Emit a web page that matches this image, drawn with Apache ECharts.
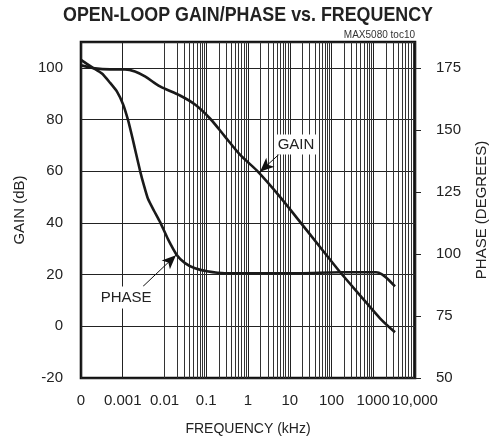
<!DOCTYPE html>
<html>
<head>
<meta charset="utf-8">
<script src="https://cdn.jsdelivr.net/npm/echarts@6/dist/echarts.min.js"></script>
<style>html,body{margin:0;padding:0;background:#fff}#c{width:494px;height:443px}</style>
</head>
<body>
<div id="c"></div>
<script>
// Frequency ticks (kHz) and their labels
var xTickLabels = ['0', '0.001', '0.01', '0.1', '1', '10', '100', '1000', '10,000'];
var minorMults = [2, 3, 4, 5, 6, 7, 8, 9];

// GAIN curve (dB) vs frequency (kHz)
var gainFreq = [0.0001, 0.000216, 0.000495, 0.00113, 0.00196, 0.00341, 0.0078, 0.0235, 0.0538, 0.123, 0.281, 0.643, 1.64, 5.84, 17.6, 53.1, 160, 482, 1452, 3318];
var gainVal  = [101.0, 99.8, 99.4, 99.4, 98.6, 96.7, 92.8, 89.3, 85.8, 80.4, 73.4, 66.4, 60.2, 50.1, 40.4, 30.7, 21.0, 12.0, 3.1, -2.3];

// PHASE curve (degrees) vs frequency (kHz)
var phaseFreq = [0.0001, 0.000194, 0.000318, 0.000495, 0.000728, 0.00101, 0.00134, 0.00167, 0.00208, 0.00259, 0.00323, 0.00402, 0.0056, 0.0078, 0.0121, 0.0199, 0.031, 0.0537, 0.104, 0.281, 1.94, 17.6, 160, 1164, 1620, 2256, 3319];
var phaseVal  = [178.2, 175.0, 172.7, 169.0, 165.4, 160.4, 153.9, 147.4, 140.5, 133.6, 127.5, 122.2, 117.4, 112.9, 106.0, 99.5, 96.3, 94.2, 93.0, 92.2, 92.2, 92.2, 92.6, 92.6, 91.8, 89.8, 86.9];

var FONT = "'Liberation Sans', Arial, sans-serif";

function zip(a, b) { return a.map(function (v, i) { return [v, b[i]]; }); }

var minorLines = [];
for (var e = -4; e < 4; e++) {
  minorMults.forEach(function (m) { minorLines.push({ xAxis: m * Math.pow(10, e) }); });
}

var chart = echarts.init(document.getElementById('c'), null, { renderer: 'canvas' });
chart.setOption({
  animation: false,
  backgroundColor: '#fff',
  textStyle: { fontFamily: FONT },
  title: [
    { text: 'MAX5080 toc10', right: 74, top: 25,
      textStyle: { fontFamily: FONT, fontSize: 10, fontWeight: 'normal', color: '#333' } }
  ],
  graphic: [
    { type: 'text', x: 248, y: 5, scaleX: 0.85, silent: true,
      style: { text: 'OPEN-LOOP GAIN/PHASE vs. FREQUENCY', fill: '#222',
        font: "bold 21px 'Liberation Sans', Arial, sans-serif", textAlign: 'center', textVerticalAlign: 'top' } }
  ],
  grid: { left: 81, right: 79, top: 42, bottom: 65, outerBoundsMode: 'none', containLabel: false,
    show: true, borderColor: '#111', borderWidth: 2.6, backgroundColor: 'transparent' },
  xAxis: {
    type: 'log', logBase: 10, min: 0.0001, max: 10000, splitNumber: 8,
    name: 'FREQUENCY (kHz)', nameLocation: 'middle', nameGap: 44,
    nameTextStyle: { fontFamily: FONT, fontSize: 14, color: '#222' },
    axisLine: { show: false }, axisTick: { show: false },
    axisLabel: { interval: 0, showMinLabel: true, showMaxLabel: true, margin: 15, fontFamily: FONT, fontSize: 15, color: '#222',
      formatter: function (v) { var i = Math.round(Math.log10(v)) + 4; return xTickLabels[i] || ''; } },
    splitLine: { show: true, lineStyle: { color: '#222', width: 1 } }
  },
  yAxis: [
    { type: 'value', min: -20, max: 110, interval: 20,
      name: 'GAIN (dB)', nameLocation: 'middle', nameGap: 43, nameRotate: 90,
      nameTextStyle: { fontFamily: FONT, fontSize: 15, color: '#222' },
      axisLine: { show: false }, axisTick: { show: false },
      axisLabel: { showMaxLabel: false, margin: 18, fontFamily: FONT, fontSize: 15, color: '#222' },
      splitLine: { show: true, lineStyle: { color: '#222', width: 1 } } },
    { type: 'value', min: 50, max: 185.4167, interval: 25, position: 'right',
      name: 'PHASE (DEGREES)', nameLocation: 'middle', nameGap: 59, nameRotate: 90,
      nameTextStyle: { fontFamily: FONT, fontSize: 15, color: '#222' },
      axisLine: { show: false }, axisTick: { show: true, length: 6, lineStyle: { color: '#222' } },
      axisLabel: { showMaxLabel: false, margin: 21, fontFamily: FONT, fontSize: 15, color: '#222' },
      splitLine: { show: false } }
  ],
  series: [
    { name: 'GAIN', type: 'line', yAxisIndex: 0, data: zip(gainFreq, gainVal), smooth: 0.3,
      showSymbol: false, lineStyle: { color: '#1a1a1a', width: 2.6 }, z: 3,
      markLine: { silent: true, symbol: ['none', 'none'], label: { show: false }, z: 1,
        lineStyle: { color: '#333', width: 1, type: 'solid' }, data: minorLines },
      markPoint: { silent: true, symbol: 'rect', symbolSize: [42, 20], itemStyle: { color: '#fff' },
        label: { show: true, position: 'inside', formatter: 'GAIN', fontFamily: FONT, fontSize: 15, color: '#222' },
        data: [{ coord: [14.1, 70.3] }] } },
    { name: 'PHASE', type: 'line', yAxisIndex: 1, data: zip(phaseFreq, phaseVal), smooth: 0.2,
      showSymbol: false, lineStyle: { color: '#1a1a1a', width: 2.6 }, z: 3,
      markLine: { silent: true, symbol: ['none', 'arrow'], symbolSize: [9, 14], label: { show: false },
        lineStyle: { color: '#111', width: 1, type: 'solid' },
        data: [
          [{ coord: [0.00305, 86.9] }, { coord: [0.0188, 99.5] }]
        ] },
      markPoint: { silent: true, symbol: 'rect', symbolSize: [56, 22], itemStyle: { color: '#fff' },
        label: { show: true, position: 'inside', formatter: 'PHASE', fontFamily: FONT, fontSize: 15, color: '#222' },
        data: [{ coord: [0.0012, 82.4] }] } },
    { name: 'GAINARROW', type: 'line', yAxisIndex: 0, data: [], z: 4,
      markLine: { silent: true, symbol: ['none', 'arrow'], symbolSize: [9, 14], label: { show: false },
        lineStyle: { color: '#111', width: 1, type: 'solid' },
        data: [
          [{ coord: [6.52, 67.6] }, { coord: [1.94, 59.8] }]
        ] } }
  ]
});
</script>
</body>
</html>
